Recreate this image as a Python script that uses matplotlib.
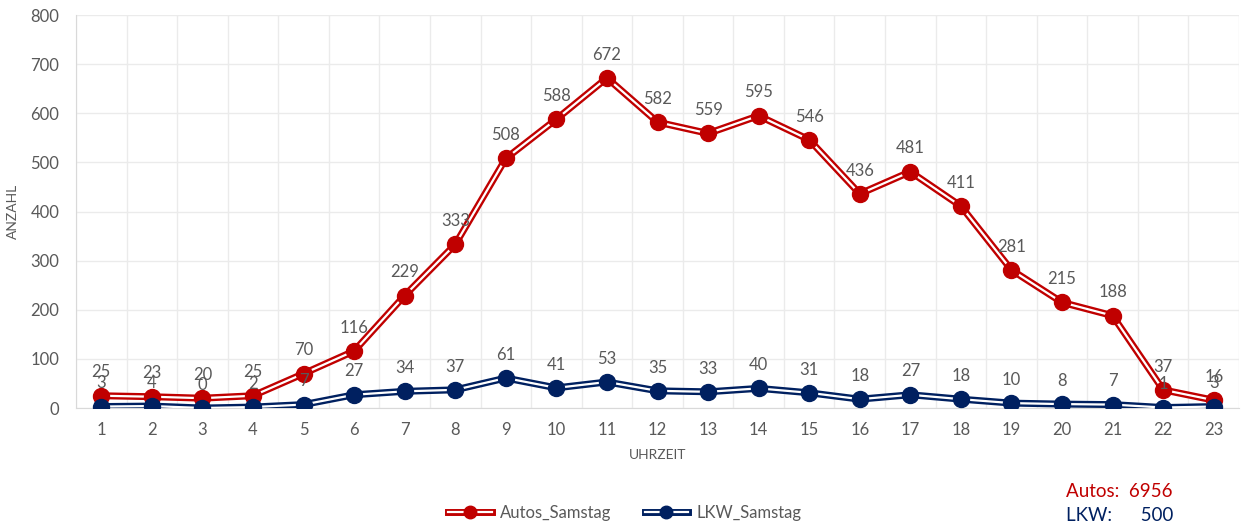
import numpy as np
import matplotlib.pyplot as plt
from matplotlib.lines import Line2D
from matplotlib.legend_handler import HandlerTuple

plt.rcParams['font.family'] = ['Lato', 'DejaVu Sans']

hours = list(range(1, 24))
autos = [25, 23, 20, 25, 70, 116, 229, 333, 508, 588, 672, 582, 559, 595, 546,
         436, 481, 411, 281, 215, 188, 37, 16]
lkw = [3, 4, 0, 2, 7, 27, 34, 37, 61, 41, 53, 35, 33, 40, 31,
       18, 27, 18, 10, 8, 7, 1, 3]

red = '#C00000'
navy = '#002060'
grey = '#595959'

fig = plt.figure(figsize=(12.42, 5.29), dpi=100)
ax = fig.add_axes([0.0612, 0.2287, 0.9364, 0.7429])

handles = []
for vals, col, name in [(autos, red, 'Autos_Samstag'), (lkw, navy, 'LKW_Samstag')]:
    ax.plot(hours, vals, color=col, lw=5, solid_capstyle='round', zorder=3)
    ax.plot(hours, vals, color='white', lw=1.6, zorder=4)
    ax.plot(hours, vals, 'o', color=col, ms=11.5, zorder=5)
    for x, v in zip(hours, vals):
        ax.annotate(str(v), (x, v), xytext=(0, 11), textcoords='offset points',
                    ha='center', va='bottom', fontsize=12, color=grey, zorder=6)
    h = (Line2D([], [], color=col, lw=5), Line2D([], [], color='white', lw=1.6),
         Line2D([], [], marker='o', ls='', color=col, ms=9))
    handles.append((h, name))

ax.set_xlim(0.5, 23.5)
ax.set_ylim(0, 800)
ax.set_yticks(range(0, 801, 100))
ax.set_xticks(hours)
ax.set_xticks(np.arange(0.5, 24, 1), minor=True)
ax.grid(True, axis='y', color='#EBEBEB', lw=1)
ax.grid(True, axis='x', which='minor', color='#EBEBEB', lw=1)
ax.set_axisbelow(True)
for s in ['top', 'right']:
    ax.spines[s].set_visible(False)
ax.spines['left'].set_color('#D9D9D9')
ax.spines['bottom'].set_color('#D9D9D9')
ax.tick_params(axis='both', which='both', length=0, labelsize=12, colors=grey, pad=10)
ax.tick_params(axis='y', pad=12)
ax.set_ylabel('ANZAHL', fontsize=10, color=grey, labelpad=8)
ax.set_xlabel('UHRZEIT', fontsize=10, color=grey, labelpad=8)

leg = fig.legend([h for h, _ in handles], [n for _, n in handles],
                 handler_map={tuple: HandlerTuple(ndivide=1, pad=0)},
                 loc='center', bbox_to_anchor=(0.503, 0.03), ncol=2, frameon=False,
                 fontsize=12, handlelength=2.6, handletextpad=0.5, columnspacing=2.0)
for t in leg.get_texts():
    t.set_color(grey)

fig.text(0.858, 0.07, 'Autos:  6956', fontsize=13.5, color=red, va='center')
fig.text(0.858, 0.026, 'LKW:      500', fontsize=13.5, color=navy, va='center')

fig.savefig('out.png', dpi=100)
